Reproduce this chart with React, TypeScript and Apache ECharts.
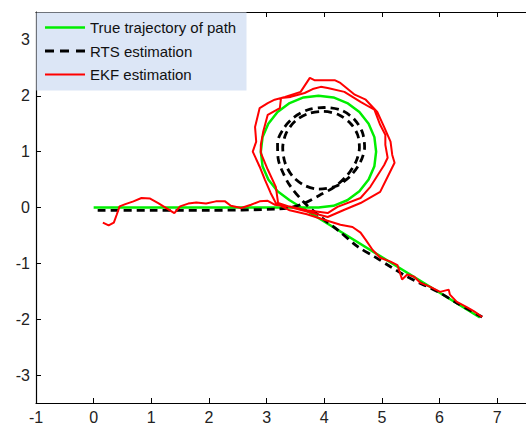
import React, { useEffect, useRef } from "react";
import * as echarts from "echarts";

const seriesNames = ["True trajectory of path", "RTS estimation", "EKF estimation"];

// True trajectory: straight segment, loop around (3.9, 1), then diagonal
const truePath: [number, number][] = [
  [0, 0], [3.9, 0],
  [4.16, 0.03], [4.4, 0.13], [4.61, 0.29], [4.77, 0.5], [4.87, 0.74], [4.9, 1.0],
  [4.87, 1.26], [4.77, 1.5], [4.61, 1.71], [4.4, 1.87], [4.16, 1.97], [3.9, 2.0],
  [3.64, 1.97], [3.4, 1.87], [3.19, 1.71], [3.03, 1.5], [2.93, 1.26], [2.9, 1.0],
  [2.93, 0.74], [3.03, 0.5], [3.19, 0.29], [3.4, 0.13],
  [6.7, -1.97],
];

const rtsPath: [number, number][] = [
  [0.07, -0.05], [1.0, -0.05], [2.0, -0.05], [3.15, -0.03], [3.42, 0.0], [3.66, 0.08],
  [3.92, 0.22], [4.18, 0.37],
  [4.4, 0.58], [4.55, 0.82], [4.61, 1.07], [4.58, 1.3], [4.46, 1.5], [4.25, 1.66],
  [3.98, 1.72], [3.72, 1.68], [3.5, 1.55], [3.34, 1.33], [3.28, 1.07], [3.32, 0.8],
  [3.45, 0.56], [3.65, 0.4], [3.9, 0.33], [4.2, 0.38],
  [4.45, 0.56], [4.63, 0.82], [4.7, 1.08], [4.66, 1.35], [4.52, 1.58], [4.3, 1.74],
  [4.0, 1.79], [3.72, 1.75], [3.48, 1.62], [3.3, 1.42], [3.19, 1.16], [3.2, 0.88],
  [3.26, 0.68], [3.4, 0.4], [3.66, 0.08], [3.95, -0.18], [4.23, -0.4], [4.58, -0.7],
  [4.87, -0.88], [5.15, -1.06], [5.44, -1.24], [6.01, -1.53], [6.3, -1.71], [6.74, -1.96],
];

const ekfPath: [number, number][] = [
  [0.16, -0.27], [0.26, -0.32], [0.35, -0.27], [0.4, -0.13], [0.45, 0.02], [0.55, 0.06],
  [0.69, 0.11], [0.83, 0.17], [0.98, 0.16], [1.12, 0.08], [1.26, -0.01], [1.4, -0.1],
  [1.5, 0.02], [1.64, 0.07], [1.78, 0.09], [1.95, 0.07], [2.12, 0.11], [2.28, 0.11],
  [2.38, 0.03], [2.56, -0.01], [2.73, 0.05], [2.88, 0.11], [3.02, 0.12], [3.14, 0.05],
  [3.4, 0.02], [3.7, -0.05], [4.06, -0.1], [4.23, 0.01], [4.63, 0.17], [4.8, 0.37],
  [5.04, 0.76], [5.1, 0.89], [5.06, 1.12], [5.06, 1.3], [4.97, 1.48], [4.87, 1.75],
  [4.63, 1.89], [4.35, 2.07], [4.06, 2.14], [3.94, 2.16], [3.8, 2.12], [3.66, 2.05],
  [3.42, 1.98], [3.25, 1.96], [3.23, 1.78], [3.02, 1.66], [2.94, 1.35], [2.9, 1.12],
  [2.9, 0.98], [3.02, 0.68], [3.16, 0.37], [3.2, 0.08], [3.5, -0.02], [3.8, -0.1],
  [4.06, -0.17], [4.35, -0.04], [4.63, 0.08], [4.97, 0.28], [5.1, 0.55], [5.22, 0.8],
  [5.18, 0.94], [5.15, 1.18], [5.04, 1.44], [4.92, 1.71], [4.72, 1.93], [4.53, 2.02],
  [4.28, 2.23], [4.18, 2.28], [3.83, 2.28], [3.75, 2.32], [3.59, 2.07], [3.32, 1.98],
  [3.14, 1.93], [3.02, 1.87], [2.88, 1.78], [2.8, 1.44], [2.82, 1.18], [2.76, 1.0],
  [2.88, 0.73], [2.97, 0.5], [3.07, 0.26], [3.16, 0.08], [3.4, -0.05], [3.7, -0.12],
  [4.0, -0.22], [4.28, -0.31], [4.49, -0.35], [4.63, -0.45], [4.72, -0.58], [4.84, -0.76],
  [4.97, -0.9], [5.15, -0.97], [5.27, -1.03], [5.35, -1.29], [5.44, -1.2], [5.56, -1.24],
  [5.67, -1.35], [5.84, -1.42], [6.01, -1.51], [6.16, -1.47], [6.18, -1.56], [6.3, -1.69],
  [6.48, -1.79], [6.6, -1.86], [6.74, -1.96],
];

const xRange = [-1, 7.5];
const yRange = [-3.5, 3.5];

const FONT = "Liberation Sans, Arial, sans-serif";

const ICON_SOLID = "path://M0,0H40V2.5H0Z";
const ICON_DASH = "path://M0,0H9V3H0Z M15,0H24V3H15Z M31,0H40V3H31Z";
const ICON_THIN = "path://M0,0H40V2H0Z";

export default function App() {
  const ref = useRef<HTMLDivElement>(null);
  useEffect(() => {
    if (!ref.current) return;
    const chart = echarts.init(ref.current, null, { renderer: "svg" });
    const axisLabel = { color: "#222", fontSize: 16, fontFamily: FONT, margin: 6 };
    chart.setOption({
      animation: false,
      backgroundColor: "#ffffff",
      grid: { left: 36, top: 12, width: 492, height: 391 },
      graphic: [
        {
          type: "rect",
          z: 1,
          shape: { x: 36.5, y: 12.5, width: 210, height: 78 },
          style: { fill: "#dce6f6", stroke: "none" },
        },
      ],
      legend: {
        z: 5,
        left: 45,
        top: 20,
        padding: 0,
        orient: "vertical",
        itemGap: 8.5,
        itemWidth: 40,
        itemHeight: 15,
        symbolKeepAspect: true,
        data: [
          { name: seriesNames[0], icon: ICON_SOLID },
          { name: seriesNames[1], icon: ICON_DASH },
          { name: seriesNames[2], icon: ICON_THIN },
        ],
        textStyle: { color: "#111", fontSize: 15, fontFamily: FONT },
      },
      xAxis: [
        {
          type: "value",
          min: xRange[0],
          max: xRange[1],
          minInterval: 1,
          maxInterval: 1,
          position: "bottom",
          splitLine: { show: false },
          axisLine: { show: true, onZero: false, lineStyle: { color: "#000", width: 1.2 } },
          axisTick: { show: true, inside: true, length: 5, lineStyle: { color: "#000" } },
          axisLabel: { ...axisLabel, showMaxLabel: false },
        },
        {
          type: "value",
          min: xRange[0],
          max: xRange[1],
          minInterval: 1,
          maxInterval: 1,
          position: "top",
          splitLine: { show: false },
          axisLine: { show: true, onZero: false, lineStyle: { color: "#000", width: 1.2 } },
          axisTick: { show: true, inside: true, length: 5, lineStyle: { color: "#000" } },
          axisLabel: { show: false },
        },
      ],
      yAxis: {
        type: "value",
        min: yRange[0],
        max: yRange[1],
        minInterval: 1,
        maxInterval: 1,
        splitLine: { show: false },
        axisLine: { show: true, onZero: false, lineStyle: { color: "#000", width: 1.2 } },
        axisTick: { show: true, inside: true, length: 5, lineStyle: { color: "#000" } },
        axisLabel: { ...axisLabel, showMinLabel: false, showMaxLabel: false },
      },
      series: [
        {
          name: seriesNames[0],
          type: "line",
          data: truePath,
          symbol: "none",
          z: 2,
          lineStyle: { color: "#00ee00", width: 2.5 },
          itemStyle: { color: "#00ee00" },
        },
        {
          name: seriesNames[1],
          type: "line",
          data: rtsPath,
          symbol: "none",
          smooth: 0.3,
          z: 3,
          lineStyle: { color: "#000", width: 2.8, type: [8, 5] },
          itemStyle: { color: "#000" },
        },
        {
          name: seriesNames[2],
          type: "line",
          data: ekfPath,
          symbol: "none",
          z: 4,
          lineStyle: { color: "#ff0000", width: 2 },
          itemStyle: { color: "#ff0000" },
        },
      ],
    });
    return () => chart.dispose();
  }, []);
  return <div ref={ref} style={{ width: 526, height: 425, position: "absolute", left: 0, top: 0 }} />;
}
